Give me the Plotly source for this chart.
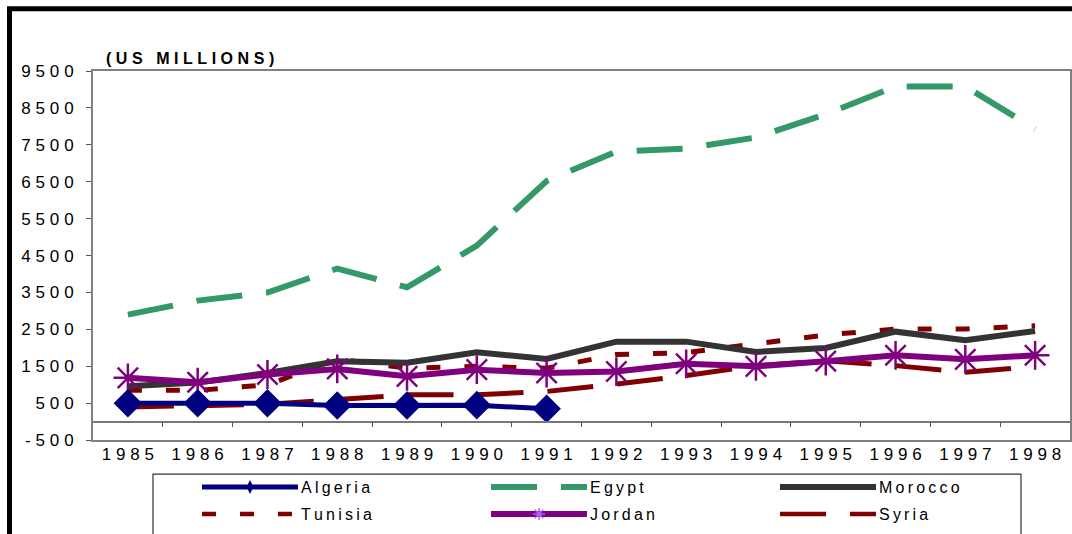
import plotly.graph_objects as go

# ---------------- data ----------------
YEARS = [1985, 1986, 1987, 1988, 1989, 1990, 1991, 1992, 1993, 1994, 1995, 1996, 1997, 1998]
ALGERIA = [500, 500, 500, 440, 440, 450, 350]  # 1985-1991 only
EGYPT = [2900, 3280, 3500, 4150, 3640, 4770, 6520, 7320, 7400, 7700, 8330, 9080, 9080, 7930]
MOROCCO = [960, 1060, 1320, 1640, 1600, 1880, 1700, 2170, 2170, 1890, 2000, 2440, 2210, 2460]
TUNISIA = [850, 850, 1000, 1700, 1450, 1500, 1450, 1820, 1870, 2120, 2350, 2510, 2510, 2600]
JORDAN = [1190, 1070, 1280, 1430, 1230, 1410, 1320, 1360, 1570, 1500, 1640, 1800, 1690, 1800]
SYRIA = [400, 440, 470, 600, 730, 730, 820, 1020, 1250, 1520, 1650, 1520, 1340, 1500]
Y_TICKS = [-500, 500, 1500, 2500, 3500, 4500, 5500, 6500, 7500, 8500, 9500]
TITLE = "(US MILLIONS)"

# capture is squeezed vertically (544 -> 534), so lay out on a 544-high page
W, H = 1072, 544
SY = H / 534.0


def Y(v):
    return v * SY


ML, MR, MT, MB = 93, W - 1070, Y(70), 0
PW = W - ML - MR
PH = H - MT - MB
PLOT_BOTTOM = Y(440)
LEG_TOP = Y(470)

SEP = "\u2009\u200a"


def sp(s, sep=SEP):
    return sep.join(list(s))


def px_x(px):
    return (px - ML) / PW


def px_y(py):
    return (H - MB - py) / PH


ydom0 = px_y(PLOT_BOTTOM)
yrange = [-500, 9500]
zero_pos = ydom0 + (0 - yrange[0]) / (yrange[1] - yrange[0]) * (1 - ydom0)

SERIES = [
    dict(name="Egypt", y=EGYPT, color="#339966", width=6, dash="46px,24px", symbol=None),
    dict(name="Syria", y=SYRIA, color="#800000", width=5, dash="46px,24px", symbol=None),
    dict(name="Tunisia", y=TUNISIA, color="#800000", width=5, dash="14px,24px", symbol=None),
    dict(name="Morocco", y=MOROCCO, color="#333333", width=6, dash="solid", symbol=None),
    dict(name="Jordan", y=JORDAN, color="#800080", width=6, dash="solid", symbol="asterisk-open"),
    dict(name="Algeria", y=ALGERIA, color="#000080", width=5, dash="solid", symbol="diamond"),
]

fig = go.Figure()
for s in SERIES:
    mode = "lines+markers" if s["symbol"] else "lines"
    marker = None
    if s["symbol"] == "diamond":
        marker = dict(symbol="diamond", size=22, color=s["color"])
    elif s["symbol"] == "asterisk-open":
        marker = dict(symbol="asterisk-open", size=24, line=dict(color=s["color"], width=2.5))
    fig.add_trace(go.Scatter(
        x=YEARS[:len(s["y"])], y=s["y"], mode=mode, name=s["name"],
        line=dict(color=s["color"], width=s["width"], dash=s["dash"]),
        marker=marker, showlegend=False, xaxis="x", yaxis="y"))

# helper trace so the zero-line axis renders
fig.add_trace(go.Scatter(x=YEARS, y=EGYPT, mode="markers", marker=dict(opacity=0),
                         showlegend=False, hoverinfo="skip", xaxis="x2", yaxis="y"))

# ---------------- custom legend (pixel-coordinate axes) ----------------
LEG_ORDER = ["Algeria", "Egypt", "Morocco", "Tunisia", "Jordan", "Syria"]
style = {s["name"]: s for s in SERIES}
COL_X = [202, 491, 780]
ROW_Y = [Y(487), Y(514)]
SAMPLE_LEN = 96
annotations = []
for i, name in enumerate(LEG_ORDER):
    s = style[name]
    x0 = COL_X[i % 3]
    yy = ROW_Y[i // 3]
    w = s["width"] if s["dash"] == "solid" or name == "Egypt" else 4.5
    fig.add_trace(go.Scatter(
        x=[x0, x0 + SAMPLE_LEN], y=[yy, yy], mode="lines",
        line=dict(color=s["color"], width=w, dash=s["dash"]),
        showlegend=False, hoverinfo="skip", xaxis="x3", yaxis="y3"))
    if s["symbol"] == "diamond":
        fig.add_trace(go.Scatter(x=[x0 + SAMPLE_LEN / 2], y=[yy], mode="markers",
                                 marker=dict(symbol="diamond-tall", size=10, color=s["color"]),
                                 showlegend=False, hoverinfo="skip", xaxis="x3", yaxis="y3"))
    elif s["symbol"] == "asterisk-open":
        fig.add_trace(go.Scatter(x=[x0 + SAMPLE_LEN / 2], y=[yy], mode="markers",
                                 marker=dict(symbol="asterisk-open", size=10,
                                             line=dict(color=s["color"], width=1.5)),
                                 showlegend=False, hoverinfo="skip", xaxis="x3", yaxis="y3"))
    annotations.append(dict(x=x0 + SAMPLE_LEN + 1, y=yy, xref="x3", yref="y3",
                            text=sp(name, "\u2009"),
                            showarrow=False, xanchor="left", yanchor="middle",
                            font=dict(family="Liberation Sans", size=16, color="black")))

annotations.append(dict(x=px_x(104), y=px_y(Y(57)), xref="paper", yref="paper",
                        text="<b>" + sp(TITLE) + "</b>", showarrow=False,
                        xanchor="left", yanchor="middle",
                        font=dict(family="Liberation Sans", size=16, color="black")))

shapes = [
    # legend box
    dict(type="rect", xref="x3", yref="y3", x0=153, x1=1021, y0=Y(474), y1=Y(600),
         line=dict(color="#333333", width=1.2), fillcolor="rgba(0,0,0,0)", layer="below"),
    # outer black frame (left and top edges visible)
    dict(type="line", xref="paper", yref="paper", x0=px_x(9.5), x1=px_x(9.5),
         y0=px_y(Y(6)), y1=px_y(Y(700)), line=dict(color="black", width=5)),
    dict(type="line", xref="paper", yref="paper", x0=px_x(7), x1=px_x(1200),
         y0=px_y(Y(7.5)), y1=px_y(Y(7.5)), line=dict(color="black", width=5)),
]

tickfont = dict(family="Liberation Sans", size=17, color="black")
fig.update_layout(
    width=W, height=H,
    margin=dict(l=ML, r=MR, t=MT, b=MB, pad=0),
    paper_bgcolor="white", plot_bgcolor="white",
    showlegend=False,
    xaxis=dict(domain=[0, 1], anchor="y", range=[1984.5, 1998.5],
               tickvals=YEARS, ticktext=[sp(str(y)) for y in YEARS],
               ticks="", ticklen=0, ticklabelstandoff=-3,
               showgrid=False, zeroline=False,
               showline=True, mirror=True, linecolor="#808080", linewidth=2,
               tickfont=tickfont),
    xaxis2=dict(overlaying="x", anchor="free", position=zero_pos, range=[1984.5, 1998.5],
                tickvals=[y + 0.5 for y in YEARS[:-1]], showticklabels=False,
                ticks="outside", ticklen=5, tickwidth=1.2, tickcolor="#555555",
                showline=True, linecolor="#777777", linewidth=1.5,
                showgrid=False, zeroline=False, side="bottom"),
    yaxis=dict(domain=[ydom0, 1], anchor="x", range=yrange,
               tickvals=Y_TICKS, ticktext=[sp(str(v)) for v in Y_TICKS],
               ticks="outside", ticklen=5, tickwidth=1.2, tickcolor="#555555",
               ticklabelstandoff=9,
               showgrid=False, zeroline=False,
               showline=True, mirror=True, linecolor="#808080", linewidth=2,
               tickfont=tickfont),
    xaxis3=dict(domain=[0, 1], anchor="y3", range=[ML, W - MR], visible=False, fixedrange=True),
    yaxis3=dict(domain=[0, px_y(LEG_TOP)], anchor="x3", range=[H, LEG_TOP],
                visible=False, fixedrange=True),
    annotations=annotations,
    shapes=shapes,
)

PAGE_FIX = (
    "var de=document.documentElement, b=document.body;"
    "de.style.margin='0';de.style.padding='0';de.style.overflow='hidden';"
    "b.style.margin='0';b.style.padding='0';b.style.overflow='hidden';"
    "window.scrollTo(0,0);"
)

fig.write_html("out.html", config={"displayModeBar": False}, post_script=PAGE_FIX)
